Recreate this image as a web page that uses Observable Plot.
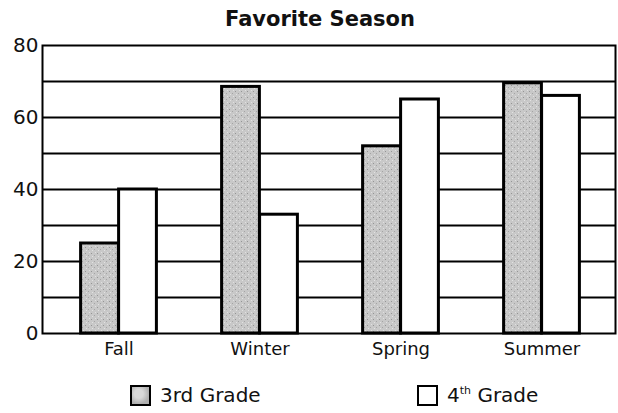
<!DOCTYPE html>
<html>
<head>
<meta charset="utf-8">
<script src="https://cdn.jsdelivr.net/npm/d3@7"></script>
<script src="https://cdn.jsdelivr.net/npm/@observablehq/plot@0.6"></script>
<style>
  body { margin: 0; background: #fff; font-family: "DejaVu Sans", sans-serif; }
  #wrap { width: 618px; height: 413px; position: relative; overflow: hidden; }
  #title { height: 30px; line-height: 38px; text-align: center; padding-left: 22px; box-sizing: border-box; width: 618px; font-weight: bold; font-size: 21px; color: #111; }
  #legend { position: relative; height: 43px; font-size: 20px; color: #111; }
  .item { position: absolute; top: 13px; display: flex; align-items: center; }
  .sw { width: 17px; height: 17px; border: 2px solid #000; margin-right: 9px; }
</style>
</head>
<body>
<div id="wrap">
  <div id="title">Favorite Season</div>
  <div id="chart"></div>
  <div id="legend"></div>
</div>
<script>
const seasons = ["Fall", "Winter", "Spring", "Summer"];
const grade3 = [25, 68.5, 52, 69.5];
const grade4 = [40, 33, 65, 66];
const grades = ["3rd Grade", "4th Grade"];
const yTicks = [0, 20, 40, 60, 80];
const gridLines = [10, 20, 30, 40, 50, 60, 70];

const rows3 = seasons.map((s, i) => ({season: s, value: grade3[i]}));
const rows4 = seasons.map((s, i) => ({season: s, value: grade4[i]}));

const outer = 32.6, barW = 38;

const chart = Plot.plot({
  width: 618,
  height: 340,
  marginTop: 15,
  marginBottom: 37,
  marginLeft: 42,
  marginRight: 3,
  style: {fontFamily: "DejaVu Sans, sans-serif", color: "#111", background: "transparent"},
  x: {domain: seasons, padding: 0, label: null, range: [47, 612]},
  y: {domain: [0, 80], label: null},
  marks: [
    Plot.ruleY(gridLines, {stroke: "#000", strokeWidth: 2}),
    Plot.barY(rows3, {x: "season", y: "value", fill: "url(#stipple)", stroke: "#000", strokeWidth: 3,
      insetLeft: outer, insetRight: outer + barW}),
    Plot.barY(rows4, {x: "season", y: "value", fill: "#fff", stroke: "#000", strokeWidth: 3,
      insetLeft: outer + barW, insetRight: outer}),
    Plot.frame({stroke: "#000", strokeWidth: 2}),
    Plot.axisY(yTicks, {tickSize: 0, tickPadding: 4, fontSize: 20, label: null}),
    Plot.axisX({tickSize: 0, tickPadding: 9, fontSize: 18, label: null})
  ]
});

// stipple pattern for 3rd grade bars
const ns = "http://www.w3.org/2000/svg";
const defs = document.createElementNS(ns, "defs");
defs.innerHTML = `<pattern id="stipple" patternUnits="userSpaceOnUse" width="6" height="6">
  <rect width="6" height="6" fill="#c8c8c8"/>
  <rect x="1" y="1" width="1" height="1" fill="#959595"/>
  <rect x="4" y="3" width="1" height="1" fill="#a4a4a4"/>
  <rect x="2" y="4" width="1" height="1" fill="#e2e2e2"/>
  <rect x="5" y="0" width="1" height="1" fill="#e0e0e0"/>
</pattern>`;
chart.insertBefore(defs, chart.firstChild);
document.getElementById("chart").appendChild(chart);

// legend
const legend = document.getElementById("legend");
const lefts = [130, 417];
grades.forEach((g, i) => {
  const it = document.createElement("div");
  it.className = "item";
  it.style.left = lefts[i] + "px";
  const sw = document.createElement("div");
  sw.className = "sw";
  sw.style.background = i === 0 ? "#c4c4c4 radial-gradient(circle at 40% 40%, #d8d8d8 30%, #b0b0b0 70%)" : "#fff";
  const t = document.createElement("span");
  if (i === 1) {
    t.innerHTML = "4<sup style='font-size:11px'>th</sup> Grade";
  } else {
    t.textContent = g;
  }
  it.appendChild(sw);
  it.appendChild(t);
  legend.appendChild(it);
});
</script>
</body>
</html>
